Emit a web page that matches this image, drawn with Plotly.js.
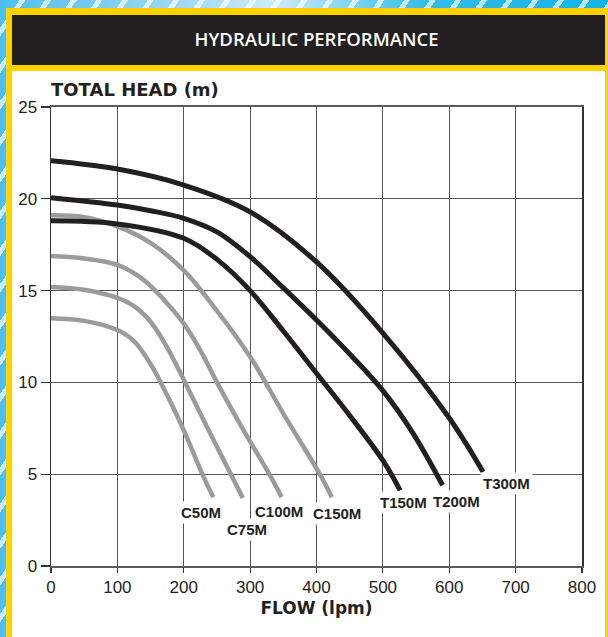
<!DOCTYPE html>
<html>
<head>
<meta charset="utf-8">
<script src="https://cdn.plot.ly/plotly-3.0.1.min.js"></script>
<style>
  html, body { margin:0; padding:0; background:#ffffff; overflow:hidden; }
  #wrap {
    position:relative; width:608px; height:637px; overflow:hidden;
    background:
      repeating-linear-gradient(125deg, rgba(255,255,255,0) 0px, rgba(255,255,255,0) 16px, rgba(255,255,255,0.7) 16px, rgba(255,255,255,0.7) 21px),
      linear-gradient(90deg, #4fbdec 0%, #9fd9f3 30%, #cdecf8 45%, #34bce9 70%, #14b2e7 100%);
  }
  #frame { position:absolute; left:6px; top:8px; right:-20px; bottom:-20px; background:#FFD200; }
  #header { position:absolute; left:12px; top:15px; width:593px; height:50px; background:#231f20; }
  #panel { position:absolute; left:12px; top:71px; width:593px; height:580px; background:#ffffff; }
  #chart { position:absolute; left:0; top:0; width:608px; height:637px; }
  #redge { position:absolute; left:605px; top:8px; width:3px; height:629px; background:#FFD200; z-index:5; }
</style>
</head>
<body>
<div id="wrap">
<div id="frame"></div>
<div id="header"></div>
<div id="panel"></div>
<div id="chart"></div>
<div id="redge"></div>
</div>
<script>
// ---- data (flow in lpm, head in m) ----
const seriesNames = ['C50M', 'C75M', 'C100M', 'C150M', 'T150M', 'T200M', 'T300M'];

const c50Flow  = [0, 50, 100, 125, 150, 175, 200, 228, 244.5];
const c50Head  = [13.5, 13.35, 12.85, 12.25, 11.0, 9.3, 7.4, 5.0, 3.74];

const c75Flow  = [0, 50, 100, 125, 150, 175, 200, 225, 250, 271, 289];
const c75Head  = [15.2, 15.05, 14.6, 14.15, 13.3, 11.9, 10.15, 8.3, 6.5, 5.0, 3.7];

const c100Flow = [0, 50, 100, 139, 170, 200, 225, 250, 290, 329, 347.5];
const c100Head = [16.88, 16.75, 16.4, 15.6, 14.5, 13.2, 11.75, 10.0, 7.4, 5.0, 3.75];

const c150Flow = [0, 50, 100, 150, 200, 250, 300, 350, 405, 423];
const c150Head = [19.1, 19.0, 18.5, 17.6, 16.1, 13.9, 11.4, 8.3, 5.0, 3.75];

const t150Flow = [0, 100, 200, 250, 300, 350, 400, 450, 500, 526];
const t150Head = [18.8, 18.63, 17.85, 16.7, 15.0, 12.8, 10.5, 8.2, 5.75, 4.12];

const t200Flow = [0, 100, 150, 200, 250, 300, 350, 400, 450, 500, 545, 590];
const t200Head = [20.06, 19.66, 19.35, 18.94, 18.2, 16.85, 15.15, 13.4, 11.55, 9.55, 7.25, 4.4];

const t300Flow = [0, 100, 200, 300, 400, 500, 600, 651];
const t300Head = [22.07, 21.62, 20.75, 19.29, 16.56, 12.69, 8.06, 5.12];

const xTickVals = [0, 100, 200, 300, 400, 500, 600, 700, 800];
const yTickVals = [0, 5, 10, 15, 20, 25];

// ---- styling ----
const GRAY = '#9b9b9b', BLACK = '#231f20';
const flows = [c50Flow, c75Flow, c100Flow, c150Flow, t150Flow, t200Flow, t300Flow];
const heads = [c50Head, c75Head, c100Head, c150Head, t150Head, t200Head, t300Head];
const colors = [GRAY, GRAY, GRAY, GRAY, BLACK, BLACK, BLACK];
const widths = [4.5, 4.5, 4.5, 4.5, 5, 5, 5];
// label offsets (px) from each curve's end point
const labelShiftX = [-12, 4, -3, 5, 3, 14, 23];
const labelShiftY = [-15, -31, -14, -16, -12, -16, -11];

const traces = seriesNames.map((n, i) => ({
  type: 'scatter', mode: 'lines', name: n,
  x: flows[i], y: heads[i],
  line: { color: colors[i], width: widths[i], shape: 'spline', smoothing: 1.0 },
  hoverinfo: 'skip'
}));

const annotations = seriesNames.map((n, i) => ({
  text: n, xref: 'x', yref: 'y',
  x: flows[i][flows[i].length - 1], y: heads[i][heads[i].length - 1],
  xshift: labelShiftX[i], yshift: labelShiftY[i],
  showarrow: false, bgcolor: '#ffffff', borderpad: 2,
  font: { family: 'Liberation Sans, Arial, sans-serif', size: 15, color: BLACK, weight: 'bold' }
}));
annotations.push({
  text: 'TOTAL HEAD (m)', xref: 'paper', yref: 'paper', x: 0, y: 1,
  xanchor: 'left', yanchor: 'middle', xshift: -2, yshift: 18, showarrow: false,
  font: { family: 'DejaVu Sans, sans-serif', size: 18, color: BLACK, weight: 'bold' }
});

const layout = {
  width: 608, height: 637,
  margin: { l: 51, r: 26, t: 107, b: 71 },
  paper_bgcolor: 'rgba(0,0,0,0)', plot_bgcolor: '#ffffff',
  showlegend: false,
  title: {
    text: 'HYDRAULIC PERFORMANCE', xref: 'paper', x: 0.5, xanchor: 'center',
    yref: 'container', y: 1 - 40 / 637, yanchor: 'middle',
    font: { family: 'Open Sans, Noto Sans, sans-serif', size: 18.5, color: '#ffffff', weight: 600 }
  },
  xaxis: {
    range: [0, 800], tickvals: xTickVals, ticktext: xTickVals.map(String),
    showgrid: true, gridcolor: '#555555', gridwidth: 1.2,
    showline: true, linecolor: '#5a5a5a', linewidth: 2, mirror: true,
    ticks: 'outside', ticklen: 5, tickcolor: '#333', tickwidth: 1.2,
    zeroline: false, fixedrange: true,
    tickfont: { family: 'Liberation Sans, Arial, sans-serif', size: 17, color: BLACK },
    title: { text: 'FLOW (lpm)', standoff: 6,
      font: { family: 'DejaVu Sans, sans-serif', size: 17, color: BLACK, weight: 'bold' } }
  },
  yaxis: {
    range: [0, 25], tickvals: yTickVals, ticktext: yTickVals.map(String),
    showgrid: true, gridcolor: '#555555', gridwidth: 1.2,
    showline: true, linecolor: '#333333', linewidth: 1.5, mirror: true,
    ticks: 'outside', ticklen: 9, tickcolor: '#333', tickwidth: 1.2,
    zeroline: false, fixedrange: true,
    tickfont: { family: 'Liberation Sans, Arial, sans-serif', size: 17, color: BLACK }
  },
  annotations: annotations
};

Plotly.newPlot('chart', traces, layout, { staticPlot: true, displayModeBar: false });
</script>
</body>
</html>
